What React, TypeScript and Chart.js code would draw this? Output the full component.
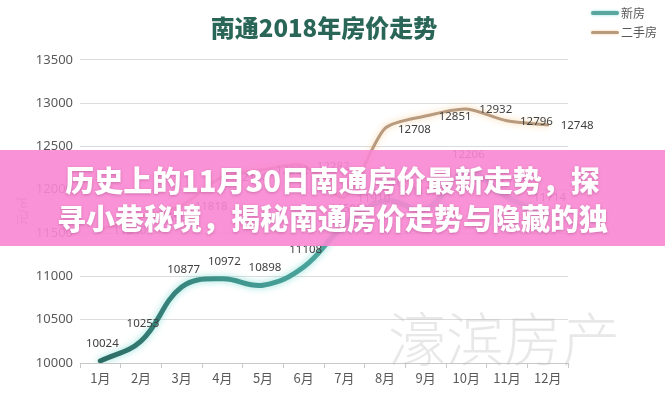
import React, { useEffect, useRef } from "react";
import { Chart, registerables } from "chart.js";

Chart.register(...registerables);

const months = ["1月", "2月", "3月", "4月", "5月", "6月", "7月", "8月", "9月", "10月", "11月", "12月"];
const newHouse = [10024, 10253, 10877, 10972, 10898, 11108, 11590, 11870, 11779, 12206, 11914, 11714];
const secondHand = [11540, 11690, 11818, 12150, 12232, 12282, 11910, 12708, 12851, 12932, 12796, 12748];
const seriesNames = ["新房", "二手房"];
const chartTitle = "南通2018年房价走势";
const yAxisTitle = "元/㎡";
const yMin = 10000;
const yMax = 13500;
const yStep = 500;
const bannerLines = ["历史上的11月30日南通房价最新走势，探", "寻小巷秘境，揭秘南通房价走势与隐藏的独"];
const watermarkText = "濠滨房产";

const FONT = '"Noto Sans", "Noto Sans CJK SC", sans-serif';
const CJK = '"Noto Sans CJK SC", "Noto Sans", sans-serif';
const TEAL = "#4a9f97";
const BROWN = "#b89a7f";

const glowPlugin = {
  id: "glow",
  beforeDatasetDraw(chart: any, args: any) {
    const ctx = chart.ctx;
    ctx.save();
    if (args.index === 0) {
      ctx.shadowColor = "rgba(110,215,205,0.75)";
      ctx.shadowBlur = 7;
    } else {
      ctx.shadowColor = "rgba(245,200,140,0.8)";
      ctx.shadowBlur = 6;
    }
  },
  afterDatasetDraw(chart: any) {
    chart.ctx.restore();
  },
};

const valueLabelPlugin = {
  id: "valueLabels",
  afterDatasetsDraw(chart: any) {
    const ctx = chart.ctx;
    chart.data.datasets.forEach((ds: any, i: number) => {
      const meta = chart.getDatasetMeta(i);
      ctx.save();
      ctx.font = `11.5px ${FONT}`;
      ctx.fillStyle = "#404040";
      meta.data.forEach((pt: any, j: number) => {
        const v = ds.data[j];
        if (i === 0) {
          ctx.textAlign = "center";
          ctx.textBaseline = "middle";
          ctx.fillText(String(v), pt.x + 2, pt.y - 17);
        } else {
          ctx.textAlign = "left";
          ctx.textBaseline = "middle";
          ctx.fillText(String(v), pt.x + 13, pt.y + 1);
        }
      });
      ctx.restore();
    });
  },
};

export default function App() {
  const canvasRef = useRef<HTMLCanvasElement | null>(null);

  useEffect(() => {
    if (!canvasRef.current) return;
    const chart = new Chart(canvasRef.current, {
      type: "line",
      data: {
        labels: months,
        datasets: [
          {
            label: seriesNames[0],
            data: newHouse,
            borderColor: (c: any) => {
              const { ctx, chartArea } = c.chart;
              if (!chartArea) return TEAL;
              const g = ctx.createLinearGradient(chartArea.left, 0, chartArea.right, 0);
              g.addColorStop(0, "#2a645e");
              g.addColorStop(0.3, "#3f958d");
              g.addColorStop(0.6, "#52ada5");
              g.addColorStop(1, "#6cc2b9");
              return g;
            },
            borderWidth: 5,
            borderCapStyle: "round",
            borderJoinStyle: "round",
            tension: 0.4,
            pointRadius: 0,
            fill: false,
          },
          {
            label: seriesNames[1],
            data: secondHand,
            borderColor: BROWN,
            borderWidth: 3,
            borderCapStyle: "round",
            borderJoinStyle: "round",
            tension: 0.25,
            pointRadius: 0,
            fill: false,
          },
        ],
      },
      options: {
        responsive: false,
        animation: false,
        devicePixelRatio: 1,
        layout: { padding: { left: 8, right: 97, top: 0, bottom: 0 } },
        plugins: {
          legend: { display: false },
          tooltip: { enabled: false },
          title: {
            display: true,
            text: chartTitle,
            fullSize: false,
            color: "#2a6658",
            font: { size: 24, weight: 900, family: CJK },
            padding: { top: 13, bottom: 18 },
          },
        },
        scales: {
          x: {
            offset: true,
            grid: {
              display: true,
              drawOnChartArea: false,
              drawTicks: true,
              tickLength: 5,
              color: "#c8c8c8",
              offset: true,
            },
            border: { display: true, color: "#c8c8c8" },
            ticks: { color: "#595959", font: { size: 13, family: CJK }, padding: 2, maxRotation: 0 },
            afterFit: (s: any) => {
              s.height = 34;
            },
          },
          y: {
            min: yMin,
            max: yMax,
            ticks: {
              stepSize: yStep,
              color: "#595959",
              font: { size: 13, family: FONT },
              padding: 7,
              callback: (v: any) => String(v),
            },
            grid: { color: "#dcdcdc", drawTicks: false },
            border: { display: false },
            title: {
              display: true,
              text: yAxisTitle,
              color: "#8c8c8c",
              font: { size: 12, family: CJK },
              padding: { top: 7, bottom: 0 },
            },
            afterFit: (s: any) => {
              s.width = 72;
            },
          },
        },
      },
      plugins: [glowPlugin, valueLabelPlugin],
    } as any);
    return () => chart.destroy();
  }, []);

  const swatch = (top: number, color: string, h: number, glow: string) => (
    <div
      style={{
        position: "absolute",
        left: 591,
        top: top - h / 2,
        width: 28,
        height: h,
        borderRadius: h / 2,
        background: color,
        boxShadow: `0 0 3px ${glow}`,
      }}
    />
  );

  const legendText = (top: number, text: string) => (
    <div
      style={{
        position: "absolute",
        left: 621,
        top: top - 9,
        height: 18,
        lineHeight: "18px",
        fontSize: 12,
        fontFamily: CJK,
        color: "#595959",
        whiteSpace: "nowrap",
      }}
    >
      {text}
    </div>
  );

  return (
    <div
      style={{
        position: "fixed",
        left: 0,
        top: 0,
        width: 665,
        height: 397,
        background: "#ffffff",
        overflow: "hidden",
      }}
    >
      <canvas ref={canvasRef} width={665} height={397} style={{ position: "absolute", left: 0, top: 0 }} />
      {swatch(13, "#5aa69e", 4, "rgba(110,215,205,0.8)")}
      {legendText(13, seriesNames[0])}
      {swatch(32, BROWN, 3, "rgba(245,200,140,0.8)")}
      {legendText(32, seriesNames[1])}
      <div
        style={{
          position: "absolute",
          left: 388,
          top: 300,
          fontSize: 58,
          lineHeight: "72px",
          fontFamily: CJK,
          fontWeight: 300,
          color: "rgba(190,190,190,0.35)",
          whiteSpace: "nowrap",
        }}
      >
        {watermarkText}
      </div>
      <div
        style={{
          position: "absolute",
          left: 0,
          top: 150,
          width: 665,
          height: 96,
          background: "rgba(248,134,210,0.9)",
          display: "flex",
          flexDirection: "column",
          alignItems: "center",
          justifyContent: "center",
        }}
      >
        {bannerLines.map((t, i) => (
          <div
            key={i}
            style={{
              fontFamily: CJK,
              fontWeight: 900,
              fontSize: 29,
              lineHeight: "38px",
              color: "#ffffff",
              whiteSpace: "nowrap",
              textShadow: "0 1px 3px rgba(120,40,90,0.35)",
            }}
          >
            {t}
          </div>
        ))}
      </div>
    </div>
  );
}
